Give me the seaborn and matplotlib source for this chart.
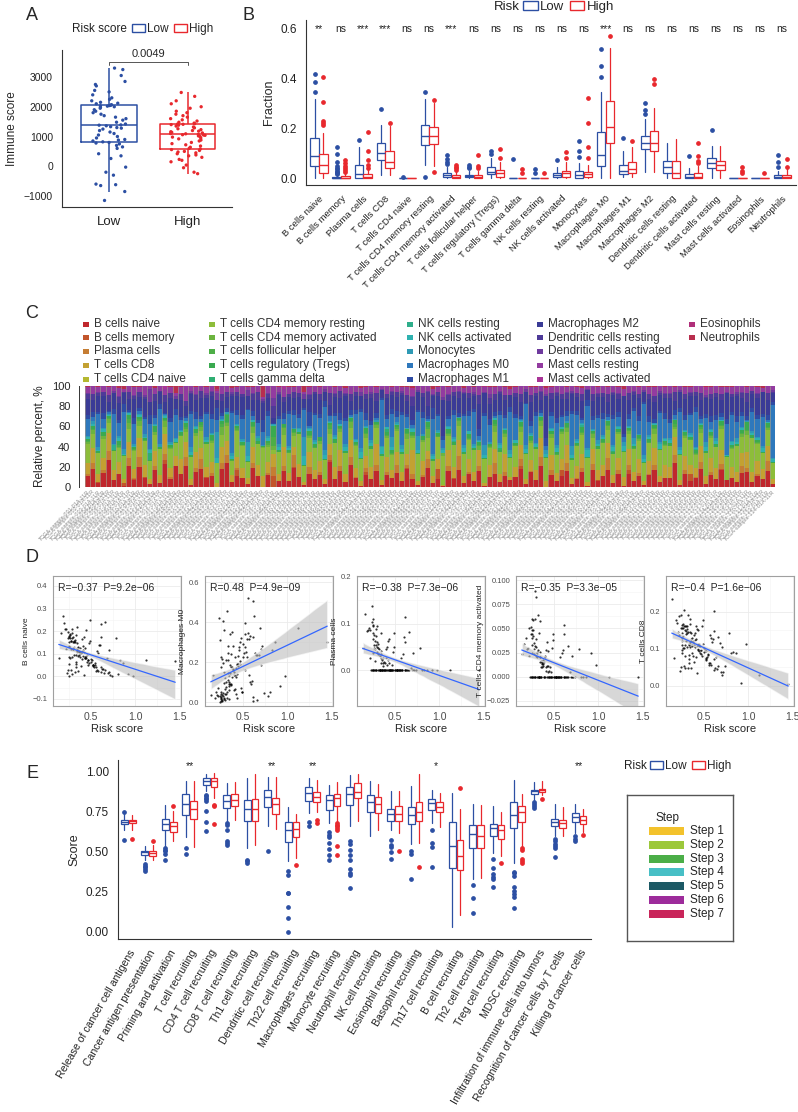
import numpy as np
import pandas as pd
import matplotlib
matplotlib.use('Agg')
import matplotlib.pyplot as plt
import seaborn as sns
from matplotlib.patches import Patch, Rectangle
from matplotlib.collections import PolyCollection, PathCollection

# ---------------- data ----------------
# A: immune score by risk group
immune_low = [-1150, -850, -650, -620, -600, -300, -200, -30, 260, 350, 420, 600, 650, 700, 750, 780,
              800, 820, 850, 880, 900, 950, 1000, 1050, 1100, 1150, 1200, 1250, 1280, 1300, 1330, 1360, 1380,
              1390, 1420, 1480, 1550, 1600, 1650, 1700, 1750, 1800, 1850, 1900, 1950, 1980, 2000, 2020, 2030,
              2040, 2050, 2070, 2100, 2120, 2150, 2200, 2250, 2300, 2400, 2500, 2550, 2700, 2750, 2850, 3050,
              3250, 3300]
immune_high = [-250, -200, -50, 40, 150, 200, 230, 300, 350, 380, 420, 450, 480, 500, 530, 560,
               580, 600, 640, 680, 720, 760, 800, 850, 880, 920, 950, 980, 1000, 1020, 1040, 1050, 1060,
               1070, 1090, 1100, 1120, 1140, 1160, 1180, 1200, 1230, 1260, 1290, 1320, 1350, 1380, 1400,
               1410, 1420, 1430, 1450, 1480, 1520, 1560, 1600, 1650, 1700, 1750, 1800, 1850, 1950, 2000,
               2100, 2200, 2350, 2480]

# B: CIBERSORT fractions, box statistics per cell type (Low / High)
cell_types = ['B cells naive', 'B cells memory', 'Plasma cells', 'T cells CD8', 'T cells CD4 naive',
              'T cells CD4 memory resting', 'T cells CD4 memory activated', 'T cells follicular helper',
              'T cells regulatory (Tregs)', 'T cells gamma delta', 'NK cells resting', 'NK cells activated',
              'Monocytes', 'Macrophages M0', 'Macrophages M1', 'Macrophages M2', 'Dendritic cells resting',
              'Dendritic cells activated', 'Mast cells resting', 'Mast cells activated', 'Eosinophils',
              'Neutrophils']
b_sig = ['**', 'ns', '***', '***', 'ns', 'ns', '***', 'ns', 'ns', 'ns', 'ns', 'ns', 'ns', '***', 'ns',
         'ns', 'ns', 'ns', 'ns', 'ns', 'ns', 'ns']
b_low_q1 = [.048, 0, 0, .072, 0, .134, .003, .003, .015, 0, 0, .003, .002, .048, .016, .115, .021, 0, .039, 0, 0, 0]
b_low_med = [.089, 0, .017, .099, 0, .169, .012, .008, .024, 0, 0, .013, .012, .093, .030, .142, .046, .005, .062, 0, 0, .005]
b_low_q3 = [.160, .005, .052, .140, 0, .215, .019, .013, .043, 0, 0, .021, .030, .184, .054, .170, .070, .016, .082, 0, 0, .012]
b_low_lo = [0, 0, 0, .012, 0, .052, 0, 0, 0, 0, 0, 0, 0, 0, .003, .024, 0, 0, .001, 0, 0, 0]
b_low_hi = [.320, .012, .126, .213, 0, .317, .045, .030, .079, 0, 0, .045, .060, .346, .110, .238, .140, .039, .130, 0, 0, .030]
b_low_fl = [[.420, .387, .346], [.125, .095, .064, .050, .042, .035, .030, .025, .020, .015], [.153], [.278],
            [.004], [.346, .005], [.094, .075, .065, .055], [.054, .046, .039], [.109, .095], [.075],
            [.038, .020], [.072], [.150, .109, .086], [.518, .450, .407], [.160], [.303, .274, .256], [],
            [.087], [.195], [], [], [.091, .066, .044]]
b_high_q1 = [.021, 0, 0, .039, 0, .136, 0, 0, .006, 0, 0, .003, .003, .140, .019, .110, 0, 0, .032, 0, 0, 0]
b_high_med = [.054, .002, .005, .064, 0, .169, .005, .005, .020, 0, 0, .019, .016, .205, .035, .142, .021, .005, .054, 0, 0, .005]
b_high_q3 = [.097, .008, .015, .110, 0, .204, .012, .013, .032, 0, 0, .030, .024, .311, .064, .190, .070, .021, .070, 0, 0, .012]
b_high_lo = [0, 0, 0, .011, 0, .050, 0, 0, 0, 0, 0, 0, 0, 0, .003, .024, 0, 0, .001, 0, 0, 0]
b_high_hi = [.183, .020, .035, .210, 0, .300, .028, .030, .065, 0, 0, .066, .051, .525, .126, .281, .156, .050, .128, 0, 0, .035]
b_high_fl = [[.408, .307, .231, .223, .215], [.072, .060, .050, .040, .032, .025], [.187, .110, .072, .052, .039],
             [.220], [], [.314, .023], [.054, .046, .039, .032], [.094, .050, .040], [.115, .079], [.035, .020],
             [.020], [.106, .079], [.323, .220, .126, .079], [.572], [.149], [.400, .379], [],
             [.142, .090, .068, .059], [], [.043, .030, .020], [.019], [.075, .044]]

# C / D: per-sample risk score and cell fractions (per mille, 134 samples)
risk_score = [0.42, 0.42, 0.61, 0.59, 0.19, 0.47, 0.38, 0.69, 0.29, 0.47,
              0.24, 0.33, 0.66, 0.40, 0.52, 0.61, 0.44, 0.45, 0.36, 0.21,
              0.58, 0.48, 0.26, 0.26, 0.40, 0.42, 0.30, 0.66, 0.53, 0.37,
              0.45, 0.24, 0.27, 0.35, 0.98, 0.28, 0.25, 0.33, 0.32, 0.48,
              0.17, 0.58, 0.71, 0.43, 0.51, 0.70, 0.63, 0.49, 0.43, 0.31,
              0.55, 0.34, 0.37, 0.29, 0.30, 0.40, 0.28, 0.32, 0.34, 0.41,
              0.26, 0.86, 0.33, 0.14, 0.65, 0.39, 0.29, 0.56, 0.44, 0.92,
              0.31, 0.27, 0.24, 0.33, 0.36, 0.55, 0.28, 0.72, 0.38, 0.25,
              0.52, 0.35, 1.12, 0.31, 0.27, 0.28, 0.35, 0.83, 0.22, 0.74,
              0.30, 0.33, 0.37, 0.49, 0.57, 0.68, 0.32, 0.23, 0.29, 0.50,
              0.39, 0.62, 0.54, 0.34, 0.81, 0.41, 0.46, 0.57, 0.62, 0.41,
              0.27, 0.39, 0.36, 0.29, 0.20, 0.36, 0.31, 0.26, 0.38, 0.25,
              0.64, 0.22, 0.45, 0.78, 1.45, 0.46, 0.53, 0.60, 0.26, 0.47,
              0.37, 0.50, 0.30, 0.56]
b_naive = [95, 170, 40, 140, 300, 60, 110, 15, 230, 70,
           210, 90, 30, 160, 45, 320, 75, 230, 120, 280,
           20, 150, 180, 85, 105, 5, 200, 260, 50, 125,
           80, 30, 190, 100, 0, 130, 0, 60, 175, 55,
           200, 95, 25, 140, 70, 110, 35, 310, 85, 150,
           40, 245, 100, 10, 125, 65, 165, 20, 115, 90,
           135, 55, 180, 70, 15, 100, 215, 45, 80, 10,
           150, 75, 190, 35, 120, 60, 155, 5, 95, 130,
           50, 110, 75, 85, 170, 30, 140, 65, 230, 0,
           120, 45, 105, 165, 25, 80, 135, 15, 185, 55,
           95, 175, 35, 125, 10, 145, 60, 110, 20, 100,
           160, 40, 90, 70, 290, 20, 130, 50, 100, 200,
           25, 115, 65, 175, 75, 90, 40, 125, 165, 50,
           105, 95, 145, 30]
b_memory = [0, 0, 12, 0, 3, 0, 0, 25, 0, 5,
            0, 8, 0, 0, 0, 45, 0, 0, 2, 0,
            0, 0, 0, 10, 0, 0, 3, 0, 0, 65,
            0, 4, 0, 0, 0, 0, 120, 0, 0, 0,
            6, 0, 0, 2, 0, 0, 0, 15, 0, 0,
            0, 0, 0, 0, 30, 0, 0, 0, 7, 0,
            0, 0, 2, 0, 0, 0, 0, 0, 95, 0,
            0, 12, 0, 0, 0, 0, 4, 0, 0, 0,
            0, 0, 0, 0, 20, 0, 0, 3, 0, 0,
            0, 0, 55, 0, 0, 0, 0, 0, 0, 8,
            0, 0, 0, 0, 0, 35, 0, 0, 0, 0,
            2, 0, 0, 0, 0, 0, 0, 70, 0, 0,
            0, 0, 0, 10, 0, 0, 0, 0, 0, 0,
            0, 0, 5, 0]
plasma = [20, 60, 0, 35, 95, 0, 0, 0, 80, 10,
          110, 0, 0, 45, 0, 85, 15, 0, 0, 120,
          0, 40, 100, 0, 25, 0, 70, 90, 0, 30,
          0, 0, 55, 0, 0, 20, 105, 0, 50, 0,
          125, 0, 0, 75, 0, 35, 0, 60, 0, 45,
          0, 90, 10, 0, 40, 0, 65, 0, 25, 0,
          80, 0, 30, 40, 0, 15, 100, 0, 0, 0,
          55, 0, 155, 0, 20, 0, 45, 0, 0, 110,
          0, 35, 0, 0, 70, 0, 15, 0, 95, 0,
          50, 0, 0, 85, 0, 5, 30, 0, 60, 0,
          0, 115, 0, 40, 0, 55, 0, 25, 0, 10,
          45, 0, 0, 0, 105, 0, 35, 0, 20, 75,
          0, 25, 0, 50, 0, 0, 0, 65, 40, 0,
          15, 0, 90, 0]
t_cd8 = [95, 150, 70, 120, 200, 80, 105, 40, 175, 85,
         205, 110, 60, 140, 75, 280, 90, 120, 130, 195,
         50, 165, 115, 95, 100, 45, 185, 145, 70, 125,
         85, 55, 160, 105, 95, 110, 135, 60, 210, 75,
         80, 120, 35, 170, 90, 100, 50, 140, 115, 155,
         65, 190, 95, 45, 125, 105, 215, 55, 145, 80,
         130, 85, 110, 200, 40, 135, 90, 70, 100, 10,
         150, 95, 175, 65, 120, 90, 160, 30, 110, 145,
         75, 180, 30, 95, 125, 55, 100, 85, 205, 50,
         140, 70, 105, 190, 60, 115, 130, 45, 165, 80,
         100, 150, 65, 120, 70, 175, 85, 135, 45, 110,
         160, 55, 120, 90, 210, 40, 145, 80, 95, 185,
         60, 130, 90, 150, 5, 105, 75, 115, 170, 95,
         125, 125, 140, 65]
t_cd4_naive = [0, 0, 0, 0, 0, 0, 0, 0, 0, 0,
               0, 0, 0, 0, 0, 0, 0, 0, 0, 0,
               0, 0, 0, 0, 0, 0, 0, 0, 0, 0,
               0, 0, 0, 0, 0, 0, 0, 0, 0, 0,
               3, 0, 0, 0, 0, 0, 0, 0, 0, 0,
               0, 0, 0, 0, 0, 0, 0, 0, 0, 0,
               0, 0, 0, 0, 0, 0, 0, 0, 0, 0,
               0, 0, 0, 0, 0, 0, 0, 0, 0, 0,
               0, 0, 0, 0, 0, 0, 0, 0, 0, 0,
               0, 0, 0, 0, 0, 0, 0, 0, 0, 0,
               0, 0, 0, 0, 0, 0, 0, 0, 0, 0,
               0, 0, 0, 0, 0, 0, 0, 0, 0, 0,
               0, 0, 0, 0, 0, 0, 0, 0, 0, 0,
               0, 0, 0, 0]
t_cd4_mem_rest = [170, 130, 210, 190, 110, 150, 120, 240, 140, 180,
                  120, 230, 200, 160, 260, 100, 175, 145, 210, 135,
                  190, 155, 170, 220, 180, 250, 130, 165, 140, 300,
                  200, 175, 145, 185, 230, 160, 50, 215, 135, 190,
                  110, 270, 185, 150, 205, 165, 195, 125, 240, 175,
                  160, 135, 225, 210, 180, 145, 170, 280, 190, 155,
                  205, 175, 150, 100, 230, 185, 140, 170, 215, 330,
                  140, 200, 160, 195, 175, 225, 0, 180, 150, 165,
                  215, 170, 200, 185, 120, 245, 165, 190, 130, 210,
                  175, 150, 235, 140, 170, 195, 160, 265, 125, 185,
                  205, 130, 175, 240, 195, 160, 220, 170, 180, 150,
                  135, 210, 190, 165, 95, 200, 175, 225, 155, 140,
                  180, 195, 160, 215, 250, 170, 205, 145, 185, 320,
                  165, 190, 150, 175]
t_cd4_mem_act = [10, 35, 0, 25, 45, 0, 15, 0, 65, 5,
                 55, 0, 0, 20, 0, 75, 10, 0, 0, 40,
                 0, 30, 50, 0, 20, 0, 95, 35, 0, 15,
                 5, 0, 60, 0, 10, 25, 45, 0, 70, 0,
                 35, 0, 0, 30, 0, 20, 0, 55, 0, 25,
                 0, 65, 15, 0, 40, 0, 30, 0, 20, 10,
                 25, 0, 45, 20, 0, 15, 100, 0, 5, 28,
                 20, 0, 50, 0, 15, 0, 35, 0, 10, 60,
                 0, 25, 0, 0, 45, 0, 20, 0, 55, 0,
                 30, 0, 10, 40, 0, 5, 25, 0, 35, 0,
                 0, 45, 0, 15, 0, 30, 0, 20, 0, 5,
                 40, 0, 10, 0, 35, 0, 25, 0, 15, 50,
                 0, 20, 0, 30, 0, 10, 0, 25, 35, 0,
                 15, 0, 20, 0]
t_fh = [8, 12, 0, 5, 15, 3, 10, 0, 40, 6,
        20, 4, 0, 9, 2, 14, 7, 0, 11, 25,
        0, 6, 18, 3, 10, 0, 35, 8, 5, 12,
        4, 0, 10, 7, 0, 15, 95, 2, 13, 6,
        9, 3, 0, 12, 5, 8, 0, 50, 4, 10,
        2, 16, 6, 0, 11, 3, 9, 0, 7, 5,
        13, 4, 8, 10, 0, 6, 20, 3, 9, 0,
        10, 5, 14, 0, 7, 2, 12, 0, 6, 18,
        3, 9, 0, 5, 15, 0, 8, 4, 11, 0,
        7, 2, 10, 13, 0, 6, 9, 0, 12, 4,
        5, 11, 0, 8, 0, 14, 3, 7, 0, 9,
        12, 0, 6, 4, 30, 0, 10, 3, 8, 15,
        0, 7, 5, 11, 0, 6, 2, 9, 13, 4,
        8, 0, 11, 3]
t_reg = [25, 30, 15, 40, 20, 10, 35, 5, 45, 22,
         18, 28, 12, 50, 20, 33, 16, 8, 26, 60,
         14, 38, 24, 19, 42, 6, 30, 75, 17, 27,
         21, 12, 35, 28, 4, 23, 115, 18, 32, 15,
         29, 16, 9, 44, 25, 31, 13, 22, 37, 20,
         11, 34, 26, 7, 48, 19, 24, 14, 30, 36,
         22, 17, 41, 28, 10, 33, 55, 20, 25, 3,
         35, 23, 18, 12, 40, 26, 30, 9, 21, 46,
         16, 27, 5, 24, 38, 13, 32, 20, 28, 11,
         30, 19, 25, 43, 15, 22, 36, 10, 27, 18,
         24, 39, 14, 31, 8, 26, 20, 35, 12, 23,
         28, 15, 33, 21, 50, 10, 25, 17, 38, 29,
         13, 26, 22, 36, 2, 19, 16, 30, 85, 24,
         20, 9, 31, 14]
t_gd = [0, 0, 0, 0, 0, 0, 0, 0, 0, 0,
        0, 0, 75, 0, 0, 0, 0, 0, 0, 0,
        0, 0, 0, 0, 0, 0, 0, 5, 0, 0,
        0, 0, 0, 0, 0, 0, 0, 0, 0, 0,
        0, 0, 0, 0, 0, 0, 0, 0, 0, 0,
        0, 0, 0, 0, 0, 0, 0, 0, 35, 0,
        0, 0, 0, 0, 0, 0, 0, 0, 0, 0,
        0, 0, 0, 0, 0, 0, 0, 0, 0, 0,
        20, 0, 0, 0, 0, 0, 0, 0, 0, 0,
        0, 0, 0, 0, 0, 0, 0, 0, 0, 0,
        0, 0, 10, 0, 0, 0, 0, 0, 0, 0,
        0, 0, 0, 0, 0, 0, 0, 0, 0, 0,
        0, 0, 0, 0, 0, 0, 0, 0, 0, 0,
        0, 0, 0, 0]
nk_rest = [0, 0, 0, 0, 0, 38, 0, 0, 0, 0,
           0, 0, 0, 0, 0, 0, 0, 0, 0, 0,
           0, 0, 0, 0, 0, 0, 0, 0, 0, 0,
           0, 0, 0, 20, 0, 0, 0, 0, 0, 0,
           0, 0, 0, 0, 0, 0, 0, 0, 0, 0,
           0, 0, 0, 0, 0, 0, 0, 0, 0, 0,
           0, 0, 0, 0, 0, 0, 0, 0, 0, 0,
           0, 15, 0, 0, 0, 0, 0, 0, 0, 0,
           0, 0, 0, 0, 0, 0, 0, 0, 0, 0,
           0, 0, 0, 0, 0, 0, 22, 0, 0, 0,
           0, 0, 0, 0, 0, 0, 0, 0, 0, 0,
           0, 0, 0, 0, 0, 0, 0, 0, 8, 0,
           0, 0, 0, 0, 0, 0, 0, 0, 0, 0,
           0, 0, 0, 0]
nk_act = [15, 20, 5, 30, 10, 0, 25, 12, 18, 8,
          22, 3, 40, 16, 0, 28, 11, 35, 6, 19,
          30, 14, 0, 24, 9, 60, 17, 4, 27, 13,
          10, 45, 21, 7, 0, 33, 15, 26, 2, 18,
          5, 25, 106, 14, 20, 0, 38, 11, 23, 16,
          32, 8, 19, 50, 12, 26, 3, 79, 15, 21,
          13, 27, 6, 18, 24, 0, 10, 29, 17, 35,
          20, 12, 4, 36, 23, 15, 9, 28, 0, 14,
          26, 11, 30, 19, 5, 42, 16, 22, 8, 25,
          17, 33, 13, 2, 28, 20, 12, 72, 6, 24,
          21, 7, 27, 15, 38, 10, 25, 0, 30, 18,
          9, 35, 16, 24, 3, 29, 14, 20, 11, 6,
          31, 18, 23, 8, 20, 26, 13, 17, 4, 22,
          15, 40, 10, 28]
monocytes = [10, 25, 30, 5, 15, 8, 20, 45, 0, 18,
             12, 28, 15, 3, 35, 9, 22, 6, 14, 0,
             40, 11, 7, 26, 13, 323, 4, 17, 30, 10,
             20, 150, 6, 16, 12, 27, 9, 33, 2, 19,
             8, 14, 220, 11, 25, 5, 48, 13, 21, 3,
             29, 7, 16, 40, 10, 24, 12, 18, 6, 109,
             15, 35, 4, 9, 126, 17, 0, 22, 13, 28,
             6, 21, 14, 31, 8, 19, 11, 79, 16, 2,
             24, 13, 45, 7, 10, 32, 20, 15, 5, 38,
             11, 26, 8, 14, 86, 18, 9, 23, 12, 30,
             16, 4, 20, 10, 27, 13, 50, 7, 33, 15,
             9, 22, 12, 17, 3, 25, 14, 19, 8, 11,
             35, 10, 23, 6, 0, 15, 28, 12, 4, 20,
             14, 30, 7, 18]
mac_m0 = [150, 40, 320, 90, 20, 250, 110, 380, 15, 200,
          30, 140, 270, 60, 350, 10, 180, 260, 85, 50,
          290, 70, 25, 220, 130, 160, 45, 10, 400, 100,
          170, 330, 35, 120, 110, 210, 5, 240, 55, 300,
          140, 95, 310, 20, 230, 175, 450, 60, 190, 40,
          180, 15, 260, 340, 65, 125, 30, 520, 80, 230,
          50, 290, 110, 30, 210, 155, 25, 380, 140, 90,
          75, 200, 0, 250, 135, 325, 45, 220, 160, 20,
          270, 100, 390, 190, 10, 410, 60, 240, 35, 40,
          120, 175, 85, 55, 300, 230, 20, 470, 105, 195,
          150, 25, 210, 90, 40, 70, 265, 130, 520, 115,
          5, 235, 180, 120, 60, 280, 100, 160, 410, 45,
          190, 65, 145, 30, 330, 250, 125, 95, 15, 185,
          170, 350, 10, 600]
mac_m1 = [30, 45, 20, 60, 15, 35, 25, 80, 18, 50,
          40, 22, 110, 28, 55, 12, 38, 65, 33, 19,
          24, 70, 35, 16, 48, 150, 29, 42, 21, 58,
          36, 18, 52, 27, 95, 44, 8, 31, 63, 23,
          47, 34, 26, 160, 20, 39, 57, 14, 30, 66,
          19, 53, 41, 28, 75, 33, 46, 22, 37, 49,
          62, 25, 30, 43, 17, 58, 35, 126, 21, 40,
          28, 51, 38, 15, 45, 32, 68, 26, 54, 37,
          44, 29, 60, 35, 23, 16, 50, 39, 27, 72,
          33, 47, 20, 56, 31, 42, 24, 61, 36, 18,
          52, 26, 34, 45, 22, 59, 30, 40, 17, 48,
          38, 21, 64, 29, 50, 35, 43, 25, 57, 31,
          27, 55, 36, 42, 60, 23, 48, 34, 46, 30,
          40, 28, 52, 35]
mac_m2 = [140, 120, 160, 175, 100, 130, 150, 110, 125, 185,
          115, 170, 145, 135, 120, 160, 190, 105, 155, 130,
          150, 125, 180, 140, 165, 95, 135, 110, 145, 170,
          160, 130, 115, 185, 150, 140, 60, 200, 120, 135,
          125, 155, 100, 145, 170, 135, 90, 130, 160, 145,
          175, 110, 150, 120, 140, 195, 130, 85, 165, 140,
          135, 160, 120, 115, 155, 145, 110, 130, 175, 400,
          145, 130, 165, 180, 125, 140, 240, 155, 135, 120,
          165, 140, 120, 150, 130, 110, 185, 145, 115, 380,
          130, 175, 150, 120, 160, 135, 145, 110, 170, 155,
          140, 125, 165, 135, 300, 150, 120, 175, 105, 145,
          155, 135, 140, 170, 115, 130, 160, 150, 125, 180,
          120, 165, 145, 130, 280, 140, 155, 125, 150, 135,
          160, 270, 135, 110]
dc_rest = [45, 60, 20, 35, 80, 0, 50, 10, 70, 30,
           55, 25, 0, 65, 15, 90, 40, 5, 48, 75,
           10, 52, 68, 30, 44, 0, 85, 60, 20, 38,
           28, 0, 58, 72, 15, 40, 130, 8, 50, 25,
           62, 35, 0, 48, 18, 55, 5, 140, 30, 65,
           12, 70, 42, 0, 56, 33, 75, 0, 45, 26,
           50, 22, 64, 80, 0, 38, 156, 15, 46, 0,
           58, 30, 75, 5, 44, 20, 95, 0, 52, 66,
           18, 48, 0, 35, 78, 2, 60, 28, 85, 0,
           54, 25, 46, 70, 10, 40, 62, 0, 73, 32,
           36, 82, 15, 50, 0, 68, 24, 44, 3, 39,
           64, 14, 42, 30, 110, 0, 56, 22, 47, 76,
           8, 45, 33, 60, 0, 37, 19, 53, 88, 27,
           41, 0, 66, 12]
dc_act = [5, 0, 15, 3, 0, 20, 8, 0, 2, 10,
          0, 12, 142, 4, 0, 6, 0, 30, 1, 0,
          18, 2, 0, 10, 5, 90, 0, 3, 22, 7,
          0, 68, 4, 0, 12, 9, 87, 16, 0, 5,
          2, 0, 59, 11, 7, 0, 25, 3, 14, 0,
          9, 0, 6, 40, 0, 13, 2, 18, 0, 8,
          0, 15, 3, 7, 20, 0, 10, 5, 0, 35,
          4, 0, 9, 12, 1, 17, 0, 6, 39, 2,
          11, 5, 0, 3, 0, 24, 6, 0, 2, 14,
          0, 8, 1, 5, 19, 0, 3, 12, 0, 6,
          7, 0, 14, 2, 0, 4, 10, 0, 21, 0,
          0, 16, 5, 8, 0, 13, 0, 9, 3, 1,
          20, 3, 0, 6, 15, 0, 11, 2, 0, 8,
          5, 0, 0, 17]
mast_rest = [60, 75, 45, 55, 90, 40, 70, 30, 65, 80,
             50, 85, 35, 62, 44, 78, 58, 40, 68, 195,
             38, 72, 55, 66, 48, 25, 82, 60, 42, 57,
             70, 33, 64, 52, 20, 75, 130, 46, 88, 61,
             55, 67, 28, 74, 50, 62, 36, 80, 58, 45,
             40, 92, 59, 30, 70, 54, 65, 25, 76, 48,
             63, 43, 78, 50, 35, 68, 56, 60, 47, 128,
             72, 58, 49, 38, 66, 53, 84, 41, 62, 70,
             45, 77, 60, 56, 68, 32, 73, 50, 59, 40,
             66, 51, 74, 57, 43, 64, 55, 35, 80, 52,
             58, 70, 46, 62, 52, 75, 48, 67, 37, 60,
             76, 42, 65, 53, 58, 34, 71, 47, 63, 79,
             39, 61, 56, 73, 45, 66, 50, 54, 69, 44,
             57, 48, 68, 42]
mast_act = [0, 0, 0, 0, 0, 0, 0, 0, 0, 0,
            0, 0, 0, 0, 0, 43, 0, 0, 0, 0,
            0, 0, 0, 0, 0, 0, 0, 0, 0, 0,
            0, 0, 0, 0, 0, 0, 0, 0, 30, 0,
            0, 0, 0, 0, 0, 0, 0, 0, 0, 0,
            0, 0, 0, 0, 0, 0, 0, 0, 0, 0,
            0, 0, 0, 20, 0, 0, 0, 0, 0, 0,
            0, 0, 0, 0, 0, 0, 0, 0, 0, 0,
            0, 0, 0, 0, 0, 0, 0, 0, 0, 12,
            0, 0, 0, 0, 0, 0, 0, 0, 0, 0,
            0, 0, 0, 0, 0, 0, 0, 0, 0, 0,
            0, 0, 0, 0, 0, 0, 0, 0, 0, 0,
            25, 0, 0, 0, 0, 0, 0, 0, 0, 0,
            0, 0, 0, 0]
eosinophils = [0, 0, 0, 0, 0, 0, 0, 0, 0, 0,
               0, 0, 0, 0, 0, 0, 0, 0, 0, 0,
               0, 0, 0, 0, 0, 19, 0, 0, 0, 0,
               0, 0, 0, 0, 0, 0, 0, 0, 0, 0,
               0, 0, 0, 0, 0, 0, 0, 0, 0, 0,
               0, 0, 0, 0, 0, 0, 0, 0, 0, 0,
               0, 0, 0, 0, 0, 0, 0, 0, 0, 0,
               0, 0, 0, 0, 0, 0, 0, 8, 0, 0,
               0, 0, 0, 0, 0, 0, 0, 0, 0, 0,
               0, 0, 0, 0, 0, 0, 0, 0, 0, 0,
               0, 0, 0, 0, 0, 0, 0, 0, 0, 0,
               5, 0, 0, 0, 0, 0, 0, 0, 0, 0,
               0, 0, 0, 0, 0, 0, 0, 0, 0, 0,
               0, 0, 0, 0]
neutrophils = [5, 0, 12, 3, 8, 0, 20, 35, 0, 6,
               10, 4, 0, 15, 2, 0, 9, 75, 7, 0,
               3, 12, 0, 6, 0, 44, 5, 0, 18, 8,
               0, 7, 11, 0, 91, 4, 0, 14, 2, 10,
               6, 0, 66, 9, 3, 12, 0, 5, 8, 0,
               15, 2, 0, 22, 7, 0, 11, 4, 0, 6,
               0, 9, 5, 13, 0, 3, 0, 30, 10, 0,
               8, 0, 4, 16, 0, 7, 2, 0, 12, 5,
               0, 11, 35, 6, 4, 0, 9, 13, 0, 20,
               7, 0, 3, 10, 0, 6, 14, 0, 5, 9,
               2, 8, 0, 12, 25, 0, 4, 6, 0, 11,
               9, 0, 7, 3, 14, 0, 5, 10, 1, 0,
               4, 13, 0, 8, 15, 6, 0, 3, 11, 0,
               10, 18, 0, 5]
# sample names are too small to read in the reference; numbered placeholders
sample_ids = [f'TCGA-sample-{i:03d}-01A-11R' for i in range(1, len(risk_score) + 1)]

cell_colors = ['#C0272D', '#C2552B', '#C57D33', '#C3A132', '#B5B830', '#8DBD3A', '#6CB43F', '#4DAE47',
               '#3AAA50', '#2FAE72', '#2EAE8B', '#2EB2B0', '#2E9AB5', '#2E78BC', '#2E4BA4', '#3A3B96',
               '#4E3A98', '#6E3A9E', '#933BA0', '#A93497', '#B02F7A', '#B82E4E']

# D: correlation panels
d_cells = ['B cells naive', 'Macrophages M0', 'Plasma cells', 'T cells CD4 memory activated', 'T cells CD8']
d_stats = ['R=\u22120.37  P=9.2e\u221206', 'R=0.48  P=4.9e\u221209', 'R=\u22120.38  P=7.3e\u221206',
           'R=\u22120.35  P=3.3e\u221205', 'R=\u22120.4  P=1.6e\u221206']

# E: cancer-immunity cycle
e_steps = ['Release of cancer cell antigens', 'Cancer antigen presentation', 'Priming and activation',
           'T cell recruiting', 'CD4 T cell recruiting', 'CD8 T cell recruiting', 'Th1 cell recruiting',
           'Dendritic cell recruiting', 'Th22 cell recruiting', 'Macrophages recruiting',
           'Monocyte recruiting', 'Neutrophil recruiting', 'NK cell recruiting', 'Eosinophil recruiting',
           'Basophil recruiting', 'Th17 cell recruiting', 'B cell recruiting', 'Th2 cell recruiting',
           'Treg cell recruiting', 'MDSC recruiting', 'Infiltration of immune cells into tumors',
           'Recognition of cancer cells by T cells', 'Killing of cancer cells']
e_step_no = [1, 2, 3] + [4] * 17 + [5, 6, 7]
e_sig = ['', '', '', '**', '', '', '', '**', '', '**', '', '', '', '', '', '*', '', '', '', '', '', '', '**']
e_low_q1 = [.678, .480, .635, .729, .921, .775, .691, .781, .562, .820, .764, .795, .747, .695, .676, .760, .399, .528, .601, .649, .862, .660, .687]
e_low_med = [.689, .497, .676, .800, .945, .820, .768, .843, .635, .868, .827, .864, .810, .737, .733, .806, .539, .612, .647, .733, .879, .687, .718]
e_low_q3 = [.701, .509, .706, .864, .965, .858, .823, .885, .685, .906, .858, .904, .858, .768, .781, .831, .685, .666, .676, .810, .889, .706, .743]
e_low_lo = [.635, .451, .534, .593, .879, .690, .524, .660, .445, .743, .680, .660, .601, .639, .551, .680, .033, .330, .493, .434, .827, .601, .618]
e_low_hi = [.735, .539, .795, .942, .990, .930, .960, .970, .781, .960, .921, .980, .942, .879, .910, .889, .868, .802, .789, .952, .935, .802, .802]
e_low_fl = [[.747, .572], [.424, .413, .403, .392, .382], [.524, .514, .503, .489, .451], [.524, .489],
            [.858, .850, .840, .830, .820, .754, .685, .633], [.683, .668, .639, .566, .555, .545],
            [.451, .441, .430], [.503], [.378, .357, .246, .242, .159, .086, .0], [.685, .660],
            [.628, .608, .593, .555, .518, .482, .447], [.566, .551, .514, .482, .451, .392, .367, .357, .273],
            [], [.576, .545, .530, .497, .455], [.509, .489, .332], [.639, .559, .530, .405], [],
            [.294, .215, .121], [.455, .399, .363, .342, .334, .280],
            [.372, .366, .351, .278, .257, .238, .217, .152], [.814, .801, .789, .775],
            [.580, .566, .551, .539, .524, .466], [.597, .582, .566]]
e_high_q1 = [.680, .474, .622, .706, .906, .789, .695, .739, .593, .812, .789, .837, .743, .691, .695, .750, .388, .524, .582, .685, .873, .653, .676]
e_high_med = [.693, .495, .660, .768, .942, .823, .768, .800, .643, .843, .837, .875, .800, .737, .747, .781, .476, .603, .635, .747, .885, .681, .701]
e_high_q3 = [.701, .509, .687, .820, .965, .862, .831, .837, .687, .875, .864, .931, .843, .785, .810, .810, .572, .666, .670, .785, .894, .701, .722]
e_high_lo = [.640, .451, .570, .534, .837, .701, .545, .643, .461, .747, .691, .691, .639, .618, .555, .655, .106, .336, .472, .534, .858, .601, .622]
e_high_hi = [.733, .545, .754, .942, .995, .940, .990, .970, .737, .950, .935, .990, .925, .880, .990, .868, .768, .795, .749, .864, .942, .781, .768]
e_high_fl = [[.580], [.570], [.789], [], [.795, .785, .674], [], [], [], [.420], [.701, .680],
             [.680, .670, .660, .650, .639, .539, .482], [], [], [.503], [.405], [], [.902], [], [.434],
             [.524, .510, .455, .445, .430], [.831], [], [.607]]
step_colors = ['#F3C22C', '#9CC83B', '#4BAE48', '#47BFC6', '#1C5965', '#9D2B9B', '#C9255A']

LOW = '#2C4FA3'
HIGH = '#E8282D'

# ---------------- figure ----------------
sns.set_style('white')
plt.rcParams['font.family'] = ['Liberation Sans', 'DejaVu Sans']
plt.rcParams['axes.unicode_minus'] = True

W, H = 798, 1112
fig = plt.figure(figsize=(W / 100, H / 100), dpi=100)


def px_axes(left, top, right, bottom):
    return fig.add_axes([left / W, 1 - bottom / H, (right - left) / W, (bottom - top) / H])


def classic_axes(ax):
    for side in ('top', 'right'):
        ax.spines[side].set_visible(False)
    for side in ('left', 'bottom'):
        ax.spines[side].set_color('#333333')
        ax.spines[side].set_linewidth(0.8)
    ax.tick_params(length=3, width=0.7, color='#333333', labelcolor='#222222')


def risk_legend(title, x_title, x_leg, y, fs=8.5):
    fig.text(x_title / W, 1 - y / H, title, fontsize=fs, va='center', ha='left', color='#222222')
    handles = [Patch(facecolor='white', edgecolor=LOW, linewidth=1.0, label='Low'),
               Patch(facecolor='white', edgecolor=HIGH, linewidth=1.0, label='High')]
    fig.legend(handles=handles, loc='center left', bbox_to_anchor=(x_leg / W, 1 - y / H), ncol=2,
               frameon=False, fontsize=fs, handlelength=1.1, handleheight=0.7, handletextpad=0.2,
               columnspacing=0.4, borderpad=0, borderaxespad=0)


def paired_boxes(ax, low, high, offset, width):
    n = len(low[0])
    for src, color, sign in ((low, LOW, -1), (high, HIGH, 1)):
        q1, med, q3, lo, hi, fl = src
        stats = [dict(q1=q1[i], med=med[i], q3=q3[i], whislo=lo[i], whishi=hi[i], fliers=fl[i])
                 for i in range(n)]
        ax.bxp(stats, positions=np.arange(n) + sign * offset, widths=width, showcaps=False,
               patch_artist=True, manage_ticks=False,
               boxprops=dict(facecolor='white', edgecolor=color, linewidth=0.9),
               medianprops=dict(color=color, linewidth=1.0),
               whiskerprops=dict(color=color, linewidth=0.9),
               flierprops=dict(marker='o', markerfacecolor=color, markeredgecolor=color,
                               markersize=2.4, linestyle='none'))


for letter, x, y in (('A', 32, 15), ('B', 249, 15), ('C', 32, 314), ('D', 32, 558), ('E', 32, 773)):
    fig.text(x / W, 1 - y / H, letter, fontsize=13, ha='center', va='center')

# ---- A ----
ax = px_axes(62, 50, 232, 207)
df_a = pd.DataFrame({'group': ['Low'] * len(immune_low) + ['High'] * len(immune_high),
                     'score': immune_low + immune_high})
pal = {'Low': LOW, 'High': HIGH}
sns.boxplot(data=df_a, x='group', y='score', hue='group', palette=pal, fill=False, width=0.7,
            showfliers=False, linewidth=1.1, legend=False, ax=ax, capprops=dict(linewidth=0))
sns.stripplot(data=df_a, x='group', y='score', hue='group', palette=pal, size=2.4, jitter=0.22,
              legend=False, ax=ax)
ax.plot([0, 0, 1, 1], [3400, 3500, 3500, 3400], color='#555555', lw=0.7)
ax.text(0.5, 3600, '0.0049', ha='center', va='bottom', fontsize=8)
ax.set_xlim(-0.595, 1.56)
ax.set_ylim(-1370, 3908)
ax.set_yticks([-1000, 0, 1000, 2000, 3000])
ax.set_yticklabels(['\u22121000', '0', '1000', '2000', '3000'])
ax.set_xlabel('')
ax.set_ylabel('Immune score', fontsize=8.5)
classic_axes(ax)
ax.tick_params(axis='y', labelsize=7.5)
ax.tick_params(axis='x', labelsize=9.5)
risk_legend('Risk score', 72, 132, 29)

# ---- B ----
ax = px_axes(306, 20, 796, 185)
paired_boxes(ax, (b_low_q1, b_low_med, b_low_q3, b_low_lo, b_low_hi, b_low_fl),
             (b_high_q1, b_high_med, b_high_q3, b_high_lo, b_high_hi, b_high_fl), 0.2, 0.38)
for i, s in enumerate(b_sig):
    ax.text(i, 0.6, s, ha='center', va='center', fontsize=7.5, color='#222222')
ax.set_xlim(-0.59, 21.63)
ax.set_ylim(-0.028, 0.636)
ax.set_yticks([0, 0.2, 0.4, 0.6])
ax.set_yticklabels(['0.0', '0.2', '0.4', '0.6'])
ax.set_xticks(range(len(cell_types)))
ax.set_xticklabels(cell_types, rotation=45, ha='right', rotation_mode='anchor', fontsize=6.8)
ax.set_ylabel('Fraction', fontsize=9)
classic_axes(ax)
ax.tick_params(axis='y', labelsize=8.5)
risk_legend('Risk', 494, 523, 7, fs=9.5)

# ---- C ----
frac = np.array([b_naive, b_memory, plasma, t_cd8, t_cd4_naive, t_cd4_mem_rest, t_cd4_mem_act, t_fh,
                 t_reg, t_gd, nk_rest, nk_act, monocytes, mac_m0, mac_m1, mac_m2, dc_rest, dc_act,
                 mast_rest, mast_act, eosinophils, neutrophils], dtype=float)
assert frac.shape == (22, len(risk_score)), frac.shape
share = frac / frac.sum(axis=0)
n_s = share.shape[1]
ax = px_axes(85, 386, 775, 487)
xs = np.arange(n_s)
bottom = np.zeros(n_s)
for k in range(len(cell_types)):
    ax.bar(xs, share[k] * 100, bottom=bottom, width=1.0, color=cell_colors[k], edgecolor='none',
           linewidth=0)
    bottom += share[k] * 100
ax.vlines(np.arange(n_s + 1) - 0.5, 0, 100, color='#A39F8E', lw=0.45)
ax.set_xlim(-0.5, n_s - 0.5)
ax.set_ylim(0, 100)
ax.set_yticks([0, 20, 40, 60, 80, 100])
ax.set_xticks(xs)
ax.set_xticklabels(sample_ids, rotation=45, ha='right', rotation_mode='anchor', fontsize=4.0,
                   color='#8A8A8A')
ax.tick_params(axis='x', length=0, pad=1.5)
for side in ('top', 'right', 'bottom'):
    ax.spines[side].set_visible(False)
ax.spines['left'].set_position(('outward', 4))
ax.spines['left'].set_color('#333333')
ax.spines['left'].set_linewidth(0.7)
ax.tick_params(axis='y', labelsize=8, length=3, width=0.7, color='#333333')
ax.set_ylabel('Relative percent, %', fontsize=8.5)

col_x = [83, 209, 407, 537, 689]
row_y = [324, 338, 351, 365, 379]
for k, name in enumerate(cell_types):
    cx, cy = col_x[k // 5], row_y[k % 5]
    fig.patches.append(Rectangle((cx / W, 1 - (cy + 2.5) / H), 6 / W, 5 / H, transform=fig.transFigure,
                                 facecolor=cell_colors[k], edgecolor='none'))
    fig.text((cx + 11) / W, 1 - cy / H, name, fontsize=8.5, va='center', ha='left', color='#333333')

# ---- D ----
d_index = [cell_types.index(c) for c in d_cells]
d_left = [53, 205, 357, 516, 666]
d_ylim = [(-0.131, 0.444), (-0.02, 0.632), (-0.077, 0.202), (-0.0302, 0.1042), (-0.054, 0.297)]
d_yticks = [[-0.1, 0, 0.1, 0.2, 0.3, 0.4], [0, 0.2, 0.4, 0.6], [0, 0.1, 0.2],
            [-0.025, 0, 0.025, 0.05, 0.075, 0.1], [0, 0.1, 0.2]]
d_fmt = ['{:.1f}', '{:.1f}', '{:.1f}', '{:.3f}', '{:.1f}']
for j in range(5):
    ax = px_axes(d_left[j], 576, d_left[j] + 128, 706)
    sns.regplot(x=np.array(risk_score), y=share[d_index[j]], ax=ax, ci=95, seed=7, truncate=True,
                scatter_kws=dict(s=2.5, color='black', linewidths=0),
                line_kws=dict(color='#3366FF', lw=0.9))
    for coll in ax.collections:
        if isinstance(coll, PolyCollection) and not isinstance(coll, PathCollection):
            coll.set_facecolor('#BDBDBD')
            coll.set_alpha(0.6)
    ax.set_xlim(0.075, 1.515)
    ax.set_ylim(*d_ylim[j])
    ax.set_xticks([0.5, 1.0, 1.5])
    ax.set_xticks([0.25, 0.75, 1.25], minor=True)
    ax.set_yticks(d_yticks[j])
    ax.set_yticklabels([d_fmt[j].format(v).replace('-', '\u2212') for v in d_yticks[j]])
    yt = d_yticks[j]
    ax.set_yticks([(a + b) / 2 for a, b in zip(yt[:-1], yt[1:])], minor=True)
    ax.grid(True, which='major', color='#EBEBEB', lw=0.6)
    ax.grid(True, which='minor', color='#F4F4F4', lw=0.4)
    ax.set_axisbelow(True)
    for side in ax.spines.values():
        side.set_color('#A0A0A0')
        side.set_linewidth(0.8)
    ax.tick_params(which='major', length=2.5, width=0.6, color='#555555')
    ax.tick_params(which='minor', length=0)
    ax.tick_params(axis='y', labelsize=5.5, labelcolor='#4D4D4D', pad=1.5)
    ax.tick_params(axis='x', labelsize=7.5, labelcolor='#4D4D4D', pad=1.5)
    ax.set_xlabel('Risk score', fontsize=8, labelpad=2)
    ax.set_ylabel(d_cells[j], fontsize=6, labelpad=2)
    ax.text(0.04, 0.95, d_stats[j], transform=ax.transAxes, fontsize=7.5, va='top', ha='left')

# ---- E ----
ax = px_axes(118, 760, 591, 939)
paired_boxes(ax, (e_low_q1, e_low_med, e_low_q3, e_low_lo, e_low_hi, e_low_fl),
             (e_high_q1, e_high_med, e_high_q3, e_high_lo, e_high_hi, e_high_fl), 0.19, 0.33)
for i, s in enumerate(e_sig):
    if s:
        ax.text(i, 1.035, s, ha='center', va='center', fontsize=7.5, color='#222222')
ax.set_xlim(-0.5, 22.58)
ax.set_ylim(-0.044, 1.075)
ax.set_yticks([0, 0.25, 0.5, 0.75, 1.0])
ax.set_yticklabels(['0.00', '0.25', '0.50', '0.75', '1.00'])
ax.set_xticks(range(len(e_steps)))
ax.set_xticklabels(e_steps, rotation=60, ha='right', rotation_mode='anchor', fontsize=7.6)
for lab, st in zip(ax.get_xticklabels(), e_step_no):
    lab.set_color(step_colors[st - 1])
ax.set_ylabel('Score', fontsize=9)
classic_axes(ax)
ax.tick_params(axis='y', labelsize=8.5)
risk_legend('Risk', 624, 650, 766, fs=8.5)

# step legend box
lg = px_axes(627, 795, 733, 941)
lg.set_xlim(0, 106)
lg.set_ylim(146, 0)
lg.set_xticks([])
lg.set_yticks([])
for side in lg.spines.values():
    side.set_color('#555555')
    side.set_linewidth(1.0)
lg.text(40, 23, 'Step', fontsize=8.5, va='center', ha='center')
for k, c in enumerate(step_colors):
    yy = 36 + k * 13.8
    lg.add_patch(Rectangle((22, yy - 4), 35, 8, facecolor=c, edgecolor='none'))
    lg.text(63, yy, f'Step {k + 1}', fontsize=8.5, va='center', ha='left')

fig.savefig('out.png', dpi=100, facecolor='white')
